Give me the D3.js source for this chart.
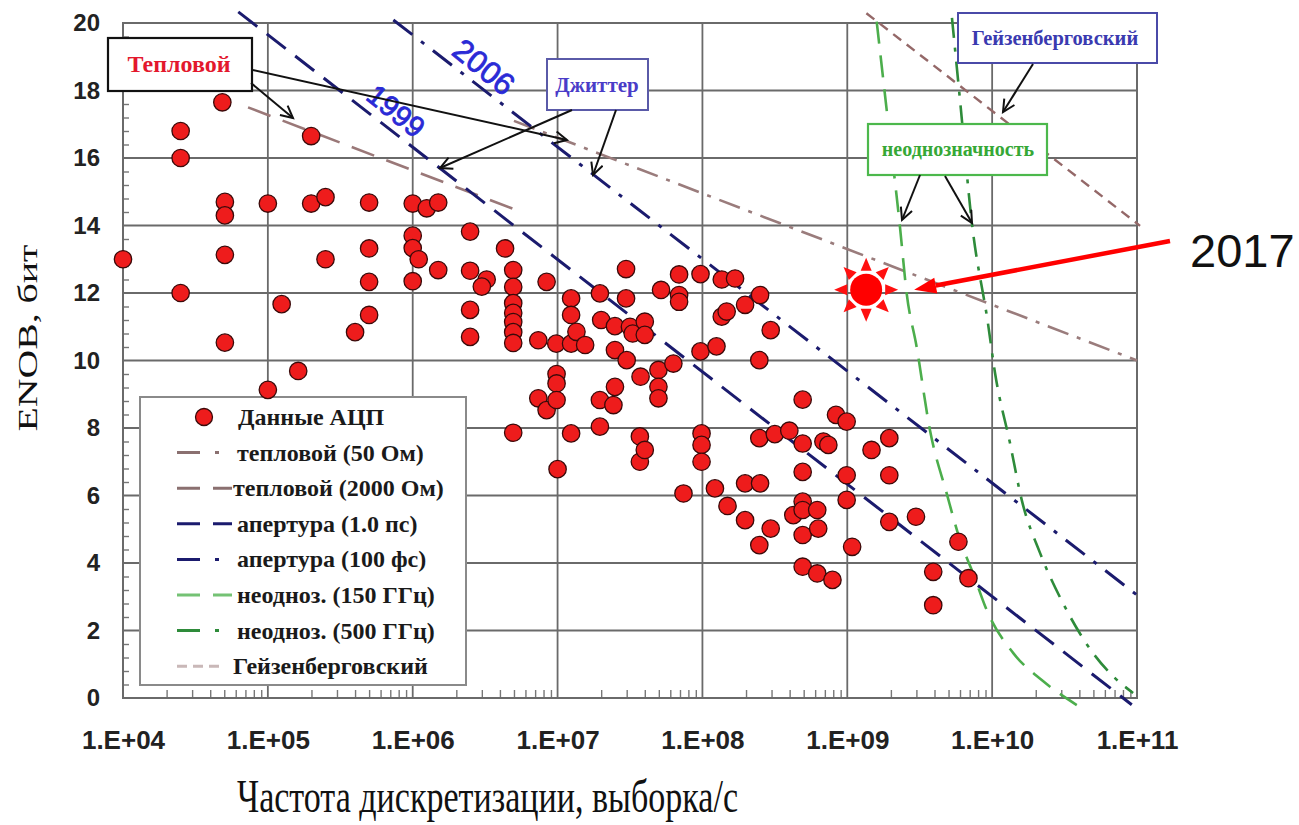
<!DOCTYPE html>
<html><head><meta charset="utf-8">
<script src="https://cdn.jsdelivr.net/npm/d3@7"></script>
<style>body{margin:0;background:#fff}svg{display:block}</style>
</head><body><svg id="c" width="1299" height="825"></svg>
<script>
// ---------- data ----------
const adcFreq = [1.0e4,2.5e4,2.5e4,2.5e4,4.85e4,5.05e4,5.05e4,5.05e4,5.05e4,1.0e5,1.0e5,1.245e5,1.62e5,1.99e5,1.99e5,2.5e5,2.5e5,4.0e5,5.0e5,5.0e5,5.0e5,5.0e5,
1.0e6,1.25e6,1.5e6,1.0e6,1.0e6,1.1e6,1.0e6,1.5e6,2.49e6,2.49e6,3.24e6,3.0e6,2.49e6,2.49e6,4.34e6,4.94e6,4.94e6,4.94e6,4.94e6,4.94e6,4.94e6,4.94e6,4.94e6,
7.36e6,8.4e6,7.36e6,8.4e6,9.8e6,9.84e6,9.84e6,9.84e6,1.0e7,1.24e7,1.24e7,1.24e7,1.35e7,1.55e7,1.24e7,1.96e7,2.0e7,1.96e7,1.96e7,2.49e7,2.49e7,2.49e7,2.43e7,
2.97e7,2.97e7,3.16e7,3.3e7,3.0e7,3.74e7,3.7e7,3.7e7,4.0e7,4.0e7,4.0e7,4.97e7,4.97e7,4.97e7,5.18e7,6.3e7,6.9e7,6.9e7,6.9e7,7.4e7,9.7e7,9.7e7,9.86e7,9.86e7,9.86e7,
1.25e8,1.22e8,1.36e8,1.36e8,1.47e8,1.49e8,1.68e8,1.97e8,1.97e8,1.97e8,2.47e8,2.47e8,2.47e8,2.5e8,2.5e8,2.96e8,2.96e8,3.16e8,3.98e8,4.24e8,
4.92e8,4.92e8,4.92e8,4.92e8,4.92e8,4.92e8,4.92e8,6.2e8,6.3e8,6.2e8,6.84e8,7.4e8,7.9e8,8.36e8,9.9e8,9.9e8,9.9e8,1.08e9,1.47e9,1.95e9,1.95e9,1.95e9,
2.98e9,3.92e9,3.92e9,5.85e9,6.86e9];
const adcEnob = [13.0,16.8,16.0,12.0,17.65,14.7,14.3,13.13,10.53,14.65,9.13,11.67,9.69,16.65,14.65,14.84,13.0,10.84,14.68,13.32,12.33,11.35,
14.65,14.51,14.68,13.7,13.33,13.0,12.35,12.68,13.82,12.66,12.4,12.19,11.5,10.7,13.32,12.68,12.18,11.7,11.41,11.14,10.84,10.52,7.86,
10.6,12.33,8.88,8.53,10.5,9.6,9.32,8.83,6.78,11.84,11.35,10.5,10.85,10.46,7.84,11.99,11.2,8.83,8.04,11.02,10.31,9.22,8.68,
12.71,11.84,11.0,10.8,10.01,9.52,7.75,7.0,11.15,10.76,7.35,9.72,9.22,8.88,12.09,9.91,12.55,11.94,11.74,6.06,12.56,10.27,7.84,7.5,7.0,
10.42,6.21,12.4,11.3,11.45,5.69,12.43,11.65,6.36,5.27,10.01,7.7,4.53,11.94,6.36,10.9,5.02,7.82,7.92,5.42,
8.84,7.54,6.7,5.82,5.57,4.83,3.89,5.57,5.02,3.69,7.6,7.5,3.5,8.39,8.19,6.6,5.87,4.48,7.35,7.7,6.6,5.22,
5.37,3.74,2.75,4.63,3.55];

const xTicks = [1e4,1e5,1e6,1e7,1e8,1e9,1e10,1e11];
const xTickLabels = ["1.E+04","1.E+05","1.E+06","1.E+07","1.E+08","1.E+09","1.E+10","1.E+11"];
const yTicks = [0,2,4,6,8,10,12,14,16,18,20];

// reference lines
const thermal50   = [[5.0e6,17.1],[1.0e11,10.0]];
const thermal2000 = [[7.3e4,17.5],[4.9e6,14.5]];
const aperture1ps = [[6.25e4,20.33],[9.2e10,-0.2]];
const aperture100fs = [[7.35e5,20.09],[1.0e11,3.05]];
const heisenberg  = [[1.355e9,20.29],[1.05e11,13.99]];
const ambig150 = [[1.596e9,20.04],[1.871e9,17.42],[2.31e9,13.96],[2.57e9,11.99],[3.01e9,10.41],[3.72e9,7.94],[4.85e9,6.07],
  [6.0e9,4.68],[7.38e9,3.70],[9.16e9,2.61],[1.40e10,1.33],[2.20e10,0.53],[3.84e10,-0.21]];
const ambig500 = [[5.28e9,20.15],[6.0e9,17.72],[7.23e9,14.11],[9.35e9,11.11],[1.047e10,9.63],[1.327e10,7.56],[1.60e10,5.87],
  [2.14e10,4.30],[3.18e10,2.70],[4.97e10,1.33],[7.05e10,0.59],[9.4e10,0.15]];
const point2017 = [1.35e9, 12.1];

const legendNames = ["Данные АЦП","тепловой (50 Ом)","тепловой (2000 Ом)","апертура (1.0 пс)","апертура (100 фс)",
  "неодноз. (150 ГГц)","неодноз. (500 ГГц)","Гейзенберговский"];

// ---------- layout ----------
const L=123, R=1137, T=23, B=698;
const svg = d3.select("#c");
const x = d3.scaleLog().domain([1e4,1e11]).range([L,R]);
const y = d3.scaleLinear().domain([0,20]).range([B,T]);

const defs = svg.append("defs");
defs.append("marker").attr("id","open").attr("markerUnits","userSpaceOnUse")
  .attr("markerWidth",16).attr("markerHeight",16).attr("refX",13).attr("refY",7).attr("orient","auto")
  .append("path").attr("d","M1,1 L13,7 L1,13").attr("fill","none").attr("stroke","#111").attr("stroke-width",2);

// grid
const gridColor="#6a6a6a";
svg.append("g").selectAll("line").data(xTicks).join("line")
  .attr("x1",d=>x(d)).attr("x2",d=>x(d)).attr("y1",T).attr("y2",B)
  .attr("stroke",gridColor).attr("stroke-width",1.8);
svg.append("g").selectAll("line").data(yTicks).join("line")
  .attr("x1",L).attr("x2",R).attr("y1",d=>y(d)).attr("y2",d=>y(d))
  .attr("stroke",gridColor).attr("stroke-width",1.8);

// minor ticks
const minorX=[]; for(let e=4;e<11;e++) for(let k=2;k<=9;k++) minorX.push(k*Math.pow(10,e));
const gmx = svg.append("g").attr("transform",`translate(0,${B})`)
  .call(d3.axisBottom(x).tickValues(minorX).tickSize(-8).tickFormat(""));
gmx.select(".domain").remove();
gmx.selectAll("line").attr("stroke","#777").attr("stroke-width",1.4);
const minorY=[]; for(let v=0.4; v<20; v+=0.4){ const r=Math.round(v*10)/10; if(Math.abs(r/2-Math.round(r/2))>1e-6) minorY.push(r);}
const gmy = svg.append("g").attr("transform",`translate(${L},0)`)
  .call(d3.axisLeft(y).tickValues(minorY).tickSize(-6).tickFormat(""));
gmy.select(".domain").remove();
gmy.selectAll("line").attr("stroke","#777").attr("stroke-width",1.4);

// frame
svg.append("rect").attr("x",L).attr("y",T).attr("width",R-L).attr("height",B-T)
  .attr("fill","none").attr("stroke",gridColor).attr("stroke-width",2);

// axes labels
const gx = svg.append("g").attr("transform",`translate(0,${B})`)
  .call(d3.axisBottom(x).tickValues(xTicks).tickSize(0).tickPadding(33).tickFormat((d,i)=>xTickLabels[i]));
gx.select(".domain").remove();
gx.selectAll("text").attr("font-family","Liberation Sans, Arial, sans-serif").attr("font-weight","bold")
  .attr("font-size",26).attr("fill","#222");
const gy = svg.append("g").attr("transform",`translate(${L},0)`)
  .call(d3.axisLeft(y).tickValues(yTicks).tickSize(0).tickPadding(23).tickFormat(d3.format("d")));
gy.select(".domain").remove();
gy.selectAll("text").attr("font-family","Liberation Sans, Arial, sans-serif").attr("font-weight","bold")
  .attr("font-size",24).attr("fill","#222");

svg.append("text").attr("x",237).attr("y",812).attr("font-family","Liberation Serif, Times New Roman, serif")
  .attr("font-size",46).attr("textLength",501).attr("lengthAdjust","spacingAndGlyphs").attr("fill","#111")
  .text("Частота дискретизации, выборка/с");
svg.append("text").attr("transform","translate(37,338) rotate(-90)").attr("text-anchor","middle")
  .attr("font-family","Liberation Serif, Times New Roman, serif").attr("font-size",28)
  .attr("textLength",187).attr("lengthAdjust","spacingAndGlyphs").attr("fill","#111").text("ENOB, бит");

// reference lines
const line = d3.line().x(d=>x(d[0])).y(d=>y(d[1]));
const curve = d3.line().x(d=>x(d[0])).y(d=>y(d[1])).curve(d3.curveMonotoneX);
const styles = [
  {data:thermal50, gen:line, color:"#9a7c7c", w:2.6, dash:"22,9,4,9"},
  {data:thermal2000, gen:line, color:"#9a7878", w:2.6, dash:"24,13"},
  {data:aperture1ps, gen:line, color:"#1b1b6e", w:3, dash:"24,12"},
  {data:aperture100fs, gen:line, color:"#1b1b6e", w:3, dash:"24,11,4,11"},
  {data:ambig150, gen:curve, color:"#4cae4c", w:2.6, dash:"22,12"},
  {data:ambig500, gen:curve, color:"#2e8b3a", w:2.6, dash:"20,10,4,10"},
  {data:heisenberg, gen:line, color:"#946868", w:2.4, dash:"10,7"}
];
svg.append("g").selectAll("path").data(styles).join("path")
  .attr("d",s=>s.gen(s.data)).attr("fill","none").attr("stroke",s=>s.color)
  .attr("stroke-width",s=>s.w).attr("stroke-dasharray",s=>s.dash);

// year labels on aperture lines
svg.append("text").attr("transform","translate(396,111) rotate(39)").attr("text-anchor","middle").attr("dy","0.35em")
  .attr("font-family","Liberation Sans, Arial, sans-serif").attr("font-size",29).attr("fill","#2a2ad6")
  .attr("stroke","#2a2ad6").attr("stroke-width",0.8).text("1999");
svg.append("text").attr("transform","translate(484,67) rotate(39)").attr("text-anchor","middle").attr("dy","0.35em")
  .attr("font-family","Liberation Sans, Arial, sans-serif").attr("font-size",31).attr("fill","#2a2ad6")
  .attr("stroke","#2a2ad6").attr("stroke-width",0.8).text("2006");

// legend
const lg = svg.append("g");
lg.append("rect").attr("x",140).attr("y",397).attr("width",326).attr("height",288)
  .attr("fill","#fff").attr("stroke","#8a8a8a").attr("stroke-width",2);
const rowY = i => 417 + i*35.6;
lg.append("circle").attr("cx",204).attr("cy",rowY(0)).attr("r",8.5)
  .attr("fill","#ee1c1c").attr("stroke","#3a0a0a").attr("stroke-width",1.3);
const legSamples = [null,
  {c:"#8a7070",dash:"23,15,4,40"},{c:"#8a7070",dash:"23,13,19,10"},
  {c:"#1b1b6e",dash:"23,13,19,10"},{c:"#1b1b6e",dash:"23,15,4,40"},
  {c:"#74c274",dash:"23,13,19,10"},{c:"#2e8b3a",dash:"23,15,4,40"},
  {c:"#c9b8b8",dash:"10,6"}];
legSamples.forEach((s,i)=>{ if(!s) return;
  lg.append("line").attr("x1",177).attr("x2",i===7?225:232).attr("y1",rowY(i)).attr("y2",rowY(i))
    .attr("stroke",s.c).attr("stroke-width",3).attr("stroke-dasharray",s.dash);
});
lg.selectAll("text").data(legendNames).join("text")
  .attr("x",(d,i)=>i===0?238:(i===2||i===7?233:237)).attr("y",(d,i)=>rowY(i)+8)
  .attr("font-family","Liberation Serif, Times New Roman, serif").attr("font-weight","bold")
  .attr("font-size",24).attr("fill","#1a1a1a").text(d=>d);

// data points
const pts = adcFreq.map((f,i)=>[f,adcEnob[i]]);
svg.append("g").selectAll("circle").data(pts).join("circle")
  .attr("cx",d=>x(d[0])).attr("cy",d=>y(d[1])).attr("r",8.7)
  .attr("fill","#ee1c1c").attr("stroke","#3a0a0a").attr("stroke-width",1.3);

// annotation boxes
function box(x0,y0,x1,y1,stroke,sw,txt,color,fs,tx,ty){
  svg.append("rect").attr("x",x0).attr("y",y0).attr("width",x1-x0).attr("height",y1-y0)
    .attr("fill","#fff").attr("stroke",stroke).attr("stroke-width",sw);
  svg.append("text").attr("x",tx).attr("y",ty).attr("text-anchor","middle")
    .attr("font-family","Liberation Serif, Times New Roman, serif").attr("font-weight","bold")
    .attr("font-size",fs).attr("fill",color).text(txt);
}
function arrow(x0,y0,x1,y1){
  svg.append("line").attr("x1",x0).attr("y1",y0).attr("x2",x1).attr("y2",y1)
    .attr("stroke","#111").attr("stroke-width",2).attr("marker-end","url(#open)");
}
box(108,38,252,91,"#111",2.2,"Тепловой","#e3182d",24,179,72);
arrow(253,70,567,140); arrow(251,83,293,118);
box(547,59,648,110,"#5a5aa8",2,"Джиттер","#4a3cc8",21,597,92);
arrow(572,110,440,168); arrow(616,110,593,175);
box(958,13,1157,63,"#4a4aa8",2,"Гейзенберговский","#3a3ab0",20.5,1055,45);
arrow(1033,64,1003,112);
box(868,124,1047,175,"#4cb84c",2.2,"неоднозначность","#36a836",20,958,156);
arrow(920,175,902,220); arrow(945,176,972,223);

// 2017 sun marker
const sx=x(point2017[0]), sy=y(point2017[1]);
const sun = svg.append("g").attr("transform",`translate(${sx},${sy})`);
d3.range(8).forEach(k=>{
  const a=k*Math.PI/4, c=Math.cos(a), s=Math.sin(a);
  const r0=19, r1=32, hw=5.5;
  sun.append("path").attr("d",`M${r1*c},${r1*s} L${r0*c - hw*s},${r0*s + hw*c} L${r0*c + hw*s},${r0*s - hw*c} Z`).attr("fill","#ff1010");
});
sun.append("circle").attr("r",16).attr("fill","#ff0000");

// red arrow and label
const tipX=sx+48, tipY=sy;
const sX=1170, sY=241;
const dx=tipX-sX, dy=tipY-sY, len=Math.hypot(dx,dy), ux=dx/len, uy=dy/len;
const bx=tipX-22*ux, by=tipY-22*uy;
svg.append("line").attr("x1",sX).attr("y1",sY).attr("x2",bx).attr("y2",by).attr("stroke","#ff0000").attr("stroke-width",4.5);
svg.append("path").attr("d",`M${tipX},${tipY} L${bx-8*uy},${by+8*ux} L${bx+8*uy},${by-8*ux} Z`).attr("fill","#ff0000");
svg.append("text").attr("x",1190).attr("y",267).attr("font-family","Liberation Sans, Arial, sans-serif")
  .attr("font-size",47).attr("fill","#111").text("2017");
</script></body></html>
